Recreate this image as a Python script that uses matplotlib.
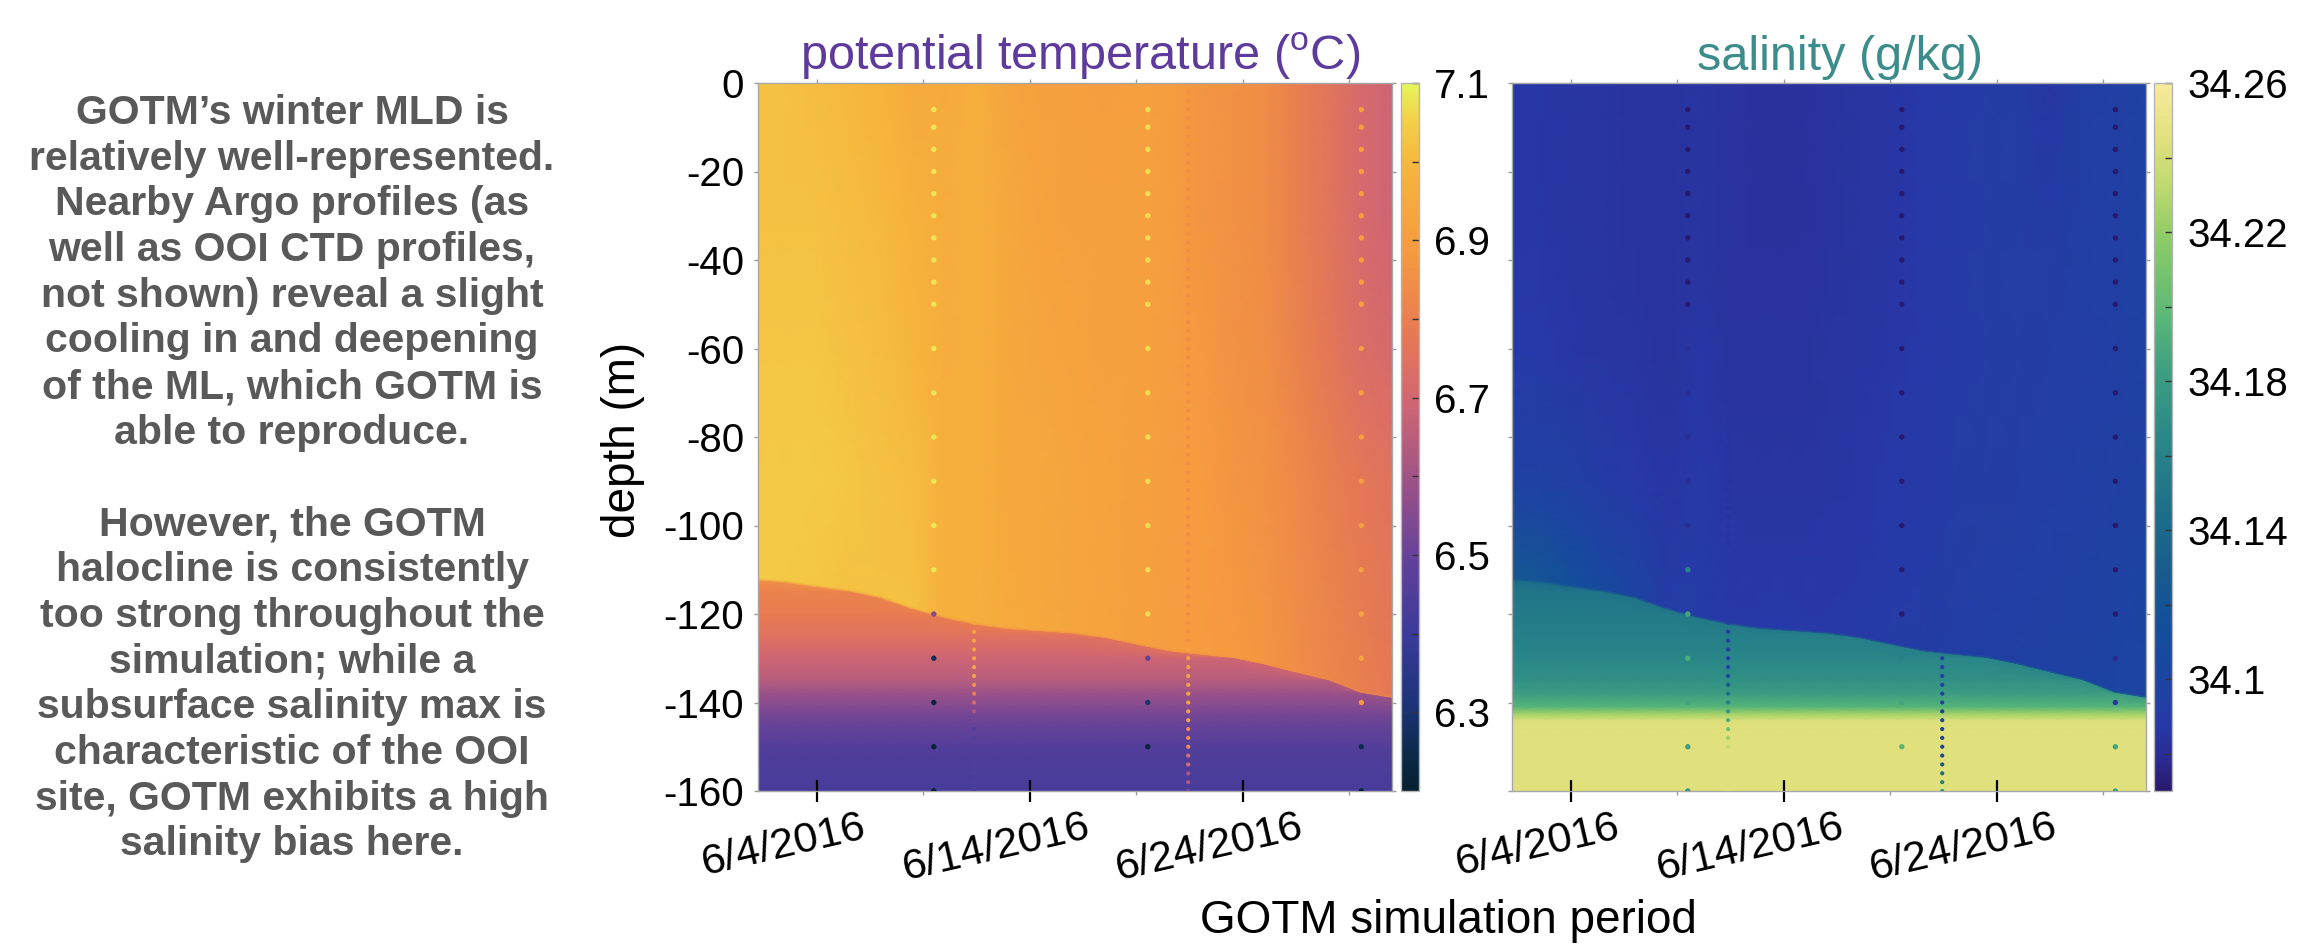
import numpy as np
import matplotlib
matplotlib.use("Agg")
import matplotlib.pyplot as plt
import matplotlib.dates as mdates
from matplotlib.colors import LinearSegmentedColormap
from matplotlib.transforms import offset_copy

plt.rcParams['font.family'] = ['Liberation Sans', 'DejaVu Sans']
plt.rcParams['mathtext.fontset'] = 'custom'
plt.rcParams['mathtext.rm'] = 'Liberation Sans'
plt.rcParams['axes.unicode_minus'] = False

# ------------------------------------------------------------------ data
sim_start = '2016-06-01T06:00'
sim_end = '2016-07-01T00:00'

# model columns: days since 2016-06-01 00:00
model_days = [0.25, 1.5, 3, 4.5, 6, 7.5, 9, 10.5, 12, 13.5, 15, 16.5, 18,
              19.5, 21, 22.5, 24, 25.5, 27, 28.5, 30.0]
# mixed-layer depth (m) of GOTM at each column
mld = [-112, -112.5, -113.5, -114.5, -116, -118.5, -120.5, -122, -123, -123.5,
       -124, -125, -126.5, -128, -128.8, -129.5, -131, -132.8, -134.5, -137.3,
       -138.5]
# mixed-layer levels: 0, -30, -60, -90 m and the base of the mixed layer
ml_depths = [0, -30, -60, -90]
temp_ml = [
    [7.02, 7.02, 7.03, 7.04, 7.04],
    [7.02, 7.02, 7.03, 7.04, 7.04],
    [7.01, 7.02, 7.03, 7.04, 7.03],
    [7.00, 7.01, 7.02, 7.03, 7.02],
    [6.99, 7.00, 7.01, 7.02, 7.02],
    [6.95, 6.98, 6.99, 7.01, 7.02],
    [6.95, 6.96, 6.96, 6.97, 6.97],
    [6.97, 6.97, 6.97, 6.97, 6.97],
    [6.93, 6.94, 6.94, 6.94, 6.95],
    [6.91, 6.92, 6.93, 6.94, 6.94],
    [6.91, 6.91, 6.92, 6.93, 6.93],
    [6.90, 6.91, 6.91, 6.92, 6.92],
    [6.91, 6.91, 6.91, 6.91, 6.91],
    [6.90, 6.90, 6.90, 6.90, 6.90],
    [6.87, 6.87, 6.88, 6.89, 6.89],
    [6.86, 6.86, 6.86, 6.87, 6.88],
    [6.84, 6.84, 6.85, 6.86, 6.87],
    [6.80, 6.80, 6.81, 6.83, 6.84],
    [6.76, 6.76, 6.77, 6.80, 6.82],
    [6.71, 6.71, 6.73, 6.77, 6.80],
    [6.69, 6.69, 6.71, 6.75, 6.78],
]
salt_ml = [
    [34.087, 34.087, 34.088, 34.096, 34.123],
    [34.087, 34.087, 34.088, 34.097, 34.121],
    [34.086, 34.086, 34.087, 34.095, 34.114],
    [34.085, 34.085, 34.086, 34.091, 34.107],
    [34.084, 34.084, 34.085, 34.088, 34.100],
    [34.084, 34.084, 34.084, 34.086, 34.091],
    [34.085, 34.085, 34.087, 34.090, 34.091],
    [34.084, 34.084, 34.084, 34.086, 34.089],
    [34.083, 34.083, 34.084, 34.085, 34.088],
    [34.083, 34.083, 34.084, 34.085, 34.088],
    [34.084, 34.084, 34.085, 34.086, 34.089],
    [34.085, 34.085, 34.086, 34.087, 34.090],
    [34.086, 34.086, 34.087, 34.088, 34.091],
    [34.088, 34.088, 34.088, 34.089, 34.092],
    [34.090, 34.090, 34.090, 34.091, 34.094],
    [34.091, 34.091, 34.091, 34.092, 34.095],
    [34.092, 34.092, 34.092, 34.093, 34.096],
    [34.086, 34.091, 34.093, 34.094, 34.097],
    [34.094, 34.094, 34.094, 34.095, 34.098],
    [34.095, 34.095, 34.095, 34.096, 34.100],
    [34.097, 34.097, 34.097, 34.098, 34.101],
]
# profile below the mixed layer (fixed depths)
deep_depths = [-110, -115, -120, -125, -130, -135, -138, -141, -142.5, -144,
               -145, -150, -155, -160]
temp_deep = [6.84, 6.81, 6.79, 6.75, 6.69, 6.64, 6.59, 6.55, 6.53, 6.51, 6.50,
             6.46, 6.44, 6.43]
salt_deep = [34.144, 34.149, 34.154, 34.158, 34.163, 34.171, 34.181, 34.195,
             34.223, 34.242, 34.244, 34.245, 34.245, 34.245]

# Argo profiles
argo_times = ['2016-06-09T12:00', '2016-06-19T13:00', '2016-06-29T13:30']
argo_depths = [-6, -10, -15, -20, -25, -30, -35, -40, -45, -50, -60, -70, -80,
               -90, -100, -110, -120, -130, -140, -150, -160]
argo_temp = [
    [7.08, 7.08, 7.08, 7.08, 7.08, 7.08, 7.08, 7.08, 7.08, 7.08, 7.08, 7.08,
     7.08, 7.08, 7.08, 7.08, 6.55, 6.27, 6.23, 6.22, 6.21],
    [7.07, 7.07, 7.07, 7.07, 7.07, 7.07, 7.07, 7.07, 7.07, 7.07, 7.07, 7.07,
     7.07, 7.07, 7.07, 7.07, 7.07, 6.50, 6.30, 6.22, np.nan],
    [6.90, 6.90, 6.90, 6.90, 6.90, 6.90, 6.90, 6.90, 6.90, 6.90, 6.90, 6.90,
     6.90, 6.90, 6.90, 6.92, 6.92, 6.92, 6.87, 6.25, 6.22],
]
argo_salt = [
    [34.070, 34.070, 34.070, 34.070, 34.070, 34.070, 34.070, 34.070, 34.070,
     34.070, 34.081, 34.081, 34.081, 34.081, 34.081, 34.163, 34.186, 34.191,
     34.186, 34.181, 34.176],
    [34.070, 34.070, 34.070, 34.070, 34.070, 34.070, 34.070, 34.070, 34.070,
     34.070, 34.070, 34.070, 34.070, 34.070, 34.070, 34.070, 34.070, 34.160,
     34.186, 34.197, np.nan],
    [34.070, 34.070, 34.070, 34.070, 34.070, 34.070, 34.070, 34.070, 34.070,
     34.070, 34.070, 34.070, 34.070, 34.070, 34.070, 34.070, 34.070, 34.078,
     34.089, 34.186, 34.186],
]

# OOI CTD profiles (2 m)
ctd_times = ['2016-06-11T09:20', '2016-06-21T10:30']
ctd_depths = [
    -2, -4, -6, -8, -10, -12, -14, -16, -18, -20,
    -22, -24, -26, -28, -30, -32, -34, -36, -38, -40,
    -42, -44, -46, -48, -50, -52, -54, -56, -58, -60,
    -62, -64, -66, -68, -70, -72, -74, -76, -78, -80,
    -82, -84, -86, -88, -90, -92, -94, -96, -98, -100,
    -102, -104, -106, -108, -110, -112, -114, -116, -118, -120,
    -122, -124, -126, -128, -130, -132, -134, -136, -138, -140,
    -142, -144, -146, -148, -150, -152, -154, -156, -158, -160]
ctd_temp = [
    [6.97, 6.97, 6.97, 6.97, 6.97, 6.97, 6.97, 6.97, 6.97, 6.97,
     6.97, 6.97, 6.97, 6.97, 6.97, 6.97, 6.97, 6.97, 6.97, 6.97,
     6.97, 6.97, 6.97, 6.97, 6.97, 6.97, 6.97, 6.97, 6.97, 6.97,
     6.97, 6.97, 6.97, 6.97, 6.97, 6.97, 6.97, 6.97, 6.97, 6.97,
     6.97, 6.97, 6.97, 6.97, 6.97, 6.97, 6.97, 6.97, 6.97, 6.97,
     6.97, 6.97, 6.96, 6.96, 6.96, 6.96, 6.96, 6.96, 6.96, 6.96,
     6.93, 6.93, 6.93, 6.93, 6.93, 6.93, 6.93, 6.86, 6.80, 6.72,
     6.62, 6.52, 6.45, 6.45, 6.45, 6.45, 6.45, 6.45, 6.45, 6.45],
    [6.84, 6.84, 6.84, 6.84, 6.84, 6.84, 6.84, 6.84, 6.84, 6.84,
     6.84, 6.84, 6.84, 6.84, 6.84, 6.84, 6.84, 6.84, 6.84, 6.84,
     6.84, 6.84, 6.84, 6.84, 6.84, 6.84, 6.84, 6.84, 6.84, 6.84,
     6.84, 6.84, 6.84, 6.84, 6.84, 6.84, 6.84, 6.84, 6.84, 6.84,
     6.84, 6.84, 6.84, 6.84, 6.84, 6.84, 6.84, 6.84, 6.84, 6.84,
     6.84, 6.84, 6.84, 6.84, 6.84, 6.84, 6.84, 6.84, 6.84, 6.84,
     6.85, 6.85, 6.85, 6.92, 6.92, 6.92, 6.92, 6.92, 6.92, 6.92,
     6.92, 6.92, 6.84, 6.84, 6.84, 6.72, 6.72, 6.62, 6.62, 6.55],
]
ctd_salt = [
    [34.084, 34.084, 34.084, 34.084, 34.084, 34.084, 34.084, 34.084, 34.084, 34.084,
     34.084, 34.084, 34.084, 34.084, 34.084, 34.084, 34.084, 34.084, 34.084, 34.084,
     34.084, 34.084, 34.084, 34.084, 34.084, 34.084, 34.084, 34.084, 34.084, 34.084,
     34.084, 34.084, 34.084, 34.084, 34.084, 34.084, 34.084, 34.084, 34.084, 34.084,
     34.084, 34.084, 34.084, 34.084, 34.084, 34.084, 34.084, 34.084, 34.084, 34.084,
     34.084, 34.084, 34.090, 34.090, 34.090, 34.090, 34.090, 34.090, 34.090, 34.090,
     34.091, 34.091, 34.091, 34.091, 34.091, 34.099, 34.110, 34.125, 34.142, 34.158,
     34.174, 34.191, 34.207, 34.223, 34.234, 34.244, 34.244, 34.244, 34.244, 34.244],
    [34.091, 34.091, 34.091, 34.091, 34.091, 34.091, 34.091, 34.091, 34.091, 34.091,
     34.091, 34.091, 34.091, 34.091, 34.091, 34.091, 34.091, 34.091, 34.091, 34.091,
     34.091, 34.091, 34.091, 34.091, 34.091, 34.091, 34.091, 34.091, 34.091, 34.091,
     34.091, 34.091, 34.091, 34.091, 34.091, 34.091, 34.091, 34.091, 34.091, 34.091,
     34.091, 34.091, 34.091, 34.091, 34.091, 34.091, 34.091, 34.091, 34.091, 34.091,
     34.091, 34.091, 34.091, 34.091, 34.091, 34.091, 34.091, 34.091, 34.091, 34.091,
     34.091, 34.091, 34.091, 34.095, 34.095, 34.095, 34.095, 34.095, 34.095, 34.095,
     34.095, 34.095, 34.095, 34.095, 34.095, 34.107, 34.123, 34.142, 34.160, 34.176],
]

xtick_dates = ['2016-06-04', '2016-06-14', '2016-06-24']
xtick_labels = ['6/4/2016', '6/14/2016', '6/24/2016']
xminor_dates = ['2016-06-09', '2016-06-19', '2016-06-29']
xtop_dates = ['2016-06-04', '2016-06-09', '2016-06-14', '2016-06-19',
              '2016-06-24', '2016-06-29']
depth_ticks = [0, -20, -40, -60, -80, -100, -120, -140, -160]
depth_labels = ['0', '-20', '-40', '-60', '-80', '-100', '-120', '-140', '-160']

temp_lim = (6.2, 7.1)
salt_lim = (34.07, 34.26)
temp_cb_ticks = [6.3, 6.5, 6.7, 6.9, 7.1]
temp_cb_labels = ['6.3', '6.5', '6.7', '6.9', '7.1']
temp_cb_minor = [6.4, 6.6, 6.8, 7.0]
salt_cb_ticks = [34.10, 34.14, 34.18, 34.22, 34.26]
salt_cb_labels = ['34.1', '34.14', '34.18', '34.22', '34.26']
salt_cb_minor = [34.08, 34.12, 34.16, 34.20, 34.24]

para_lines = [
    "GOTM\u2019s winter MLD is", "relatively well-represented.",
    "Nearby Argo profiles (as", "well as OOI CTD profiles,",
    "not shown) reveal a slight", "cooling in and deepening",
    "of the ML, which GOTM is", "able to reproduce.", "",
    "However, the GOTM", "halocline is consistently",
    "too strong throughout the", "simulation; while a",
    "subsurface salinity max is", "characteristic of the OOI",
    "site, GOTM exhibits a high", "salinity bias here.",
]

# ------------------------------------------------------------------ colormaps
thermal_like = LinearSegmentedColormap.from_list('thermal_like', [
    (0.00, '#06202e'), (0.05, '#0b2a4a'), (0.12, '#1c3478'), (0.22, '#3a3a9a'),
    (0.32, '#60409a'), (0.40, '#8a4c8e'), (0.48, '#b25a80'), (0.56, '#d46870'),
    (0.65, '#e87a52'), (0.76, '#f59a40'), (0.88, '#f6b43c'), (0.95, '#f3d048'),
    (1.00, '#e6f55a')])
haline_like = LinearSegmentedColormap.from_list('haline_like', [
    (0.00, '#2a186c'), (0.04, '#2a2a90'), (0.09, '#2838a8'), (0.17, '#1a46a0'),
    (0.24, '#12509a'), (0.31, '#185c8e'), (0.40, '#1e7088'), (0.50, '#2a8888'),
    (0.60, '#40a080'), (0.67, '#5ab878'), (0.78, '#8ccb66'), (0.86, '#c0da70'),
    (0.92, '#e0e07c'), (1.00, '#f7ea9e')])

# ------------------------------------------------------------------ figure
W, H = 2300, 948
fig = plt.figure(figsize=(W / 100, H / 100), dpi=100)


def rect(x0, y0, x1, y1):
    return [x0 / W, 1 - y1 / H, (x1 - x0) / W, (y1 - y0) / H]


base = mdates.date2num(np.datetime64('2016-06-01T00:00'))
to_num = lambda lst: mdates.date2num(np.array(lst, dtype='datetime64[m]'))

GRAY = '#9a9a9a'


def build_mesh(ml_vals, deep_vals):
    t = base + np.asarray(model_days, float)
    mldv = np.asarray(mld, float)
    ncol = len(t)
    rows = [np.full(ncol, float(d)) for d in ml_depths] + [mldv]
    rows += [np.minimum(float(z), mldv - 0.6) for z in deep_depths]
    Y = np.vstack(rows)
    X = np.tile(t, (Y.shape[0], 1))
    C = np.vstack([np.asarray(ml_vals, float).T,
                   np.tile(np.asarray(deep_vals, float)[:, None], (1, ncol))])
    return X, Y, C


def panel(box, cbox, ml_vals, deep_vals, cmap, lim, ctd_vals, argo_vals,
          cb_ticks, cb_labels, cb_minor, show_ylabels):
    ax = fig.add_axes(rect(*box))
    cax = fig.add_axes(rect(*cbox))
    X, Y, C = build_mesh(ml_vals, deep_vals)
    mesh = ax.pcolormesh(X, Y, C, shading='gouraud', cmap=cmap,
                         vmin=lim[0], vmax=lim[1], zorder=1)
    for tm, vals in zip(to_num(ctd_times), ctd_vals):
        ax.scatter(np.full(len(ctd_depths), tm), ctd_depths, c=vals, s=9,
                   cmap=cmap, vmin=lim[0], vmax=lim[1], linewidths=0, zorder=3)
    for tm, vals in zip(to_num(argo_times), argo_vals):
        ax.scatter(np.full(len(argo_depths), tm), argo_depths, c=vals, s=15,
                   cmap=cmap, vmin=lim[0], vmax=lim[1], linewidths=0, zorder=4)
    ax.set_xlim(to_num([sim_start, sim_end]))
    ax.set_ylim(-160, 0)
    for sp in ax.spines.values():
        sp.set_color('#a8a8a8')
        sp.set_linewidth(1)
    # x ticks
    ax.set_xticks(to_num(xtick_dates))
    ax.set_xticks(to_num(xminor_dates), minor=True)
    ax.tick_params(axis='x', which='major', direction='inout', length=16,
                   width=1.6, color='black', labelbottom=False, top=False)
    ax.tick_params(axis='x', which='minor', direction='out', length=3,
                   width=1, color=GRAY, top=False)
    sec = ax.secondary_xaxis('top')
    sec.set_xticks(to_num(xtop_dates))
    sec.tick_params(direction='out', length=3, width=1, color=GRAY,
                    labeltop=False)
    sec.spines['top'].set_color('#a8a8a8')
    trans = offset_copy(ax.get_xaxis_transform(), fig=fig, x=-33, y=-16,
                        units='dots')
    for d, lab in zip(to_num(xtick_dates), xtick_labels):
        ax.text(d, 0, lab, transform=trans, rotation=13, ha='center',
                va='top', fontsize=31, color='black')
    # y ticks
    ax.set_yticks(depth_ticks)
    ax.tick_params(axis='y', direction='out', length=3, width=1, color=GRAY,
                   left=True, right=True, labelsize=29, pad=7,
                   labelleft=show_ylabels)
    if show_ylabels:
        ax.set_yticklabels(depth_labels)
    # colorbar
    cb = fig.colorbar(mesh, cax=cax, ticks=cb_ticks)
    cb.set_ticklabels(cb_labels)
    cax.yaxis.set_ticks(cb_minor, minor=True)
    cax.tick_params(which='both', direction='in', length=5, width=1,
                    color='#333333', labelsize=29, pad=11)
    cb.outline.set_edgecolor('#b4b4b4')
    cb.outline.set_linewidth(1)
    return ax


ax_t = panel((758, 83, 1392, 791), (1401, 83, 1419, 791), temp_ml, temp_deep,
             thermal_like, temp_lim, ctd_temp, argo_temp, temp_cb_ticks,
             temp_cb_labels, temp_cb_minor, True)
ax_s = panel((1512, 83, 2146, 791), (2154, 83, 2172, 791), salt_ml, salt_deep,
             haline_like, salt_lim, ctd_salt, argo_salt, salt_cb_ticks,
             salt_cb_labels, salt_cb_minor, False)

# titles and labels
fig.text(1080 / W, 1 - 70 / H, r'potential temperature ($^{\rm o}$C)',
         ha='center', va='baseline', fontsize=35, color='#5d3a9b')
fig.text(1840 / W, 1 - 70 / H, 'salinity (g/kg)', ha='center', va='baseline',
         fontsize=35, color='#3b8c8a')
fig.text(623 / W, 1 - 440 / H, 'depth (m)', rotation=90, ha='center',
         va='center', fontsize=33)
fig.text(1448 / W, 1 - 933 / H, 'GOTM simulation period', ha='center',
         va='baseline', fontsize=33)

for i, line in enumerate(para_lines):
    if line:
        fig.text(292 / W, 1 - (124 + i * 45.7) / H, line, ha='center',
                 va='baseline', fontsize=29.5, fontweight='bold',
                 color='#595959')

fig.savefig('out.png', dpi=100)
